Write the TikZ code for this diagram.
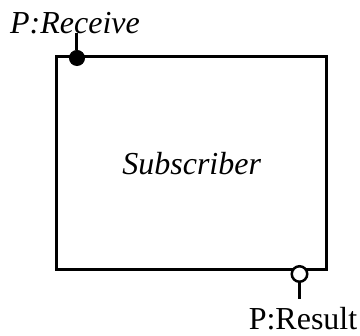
\documentclass[tikz,border=0pt]{standalone}
\usepackage{fontspec}
\setmainfont{Liberation Serif}
\usetikzlibrary{positioning}
\tikzset{
diagram/.style={
    x=1pt,
    y=1pt,
    font=\fontsize{32}{38}\selectfont
},
capsule/.style={
    rectangle,
    draw,
    line width=3pt,
    inner sep=0pt
},
inport/.style={
    circle,
    draw,
    fill=black,
    line width=1pt,
    minimum size=15pt,
    inner sep=0pt
},
outport/.style={
    circle,
    draw,
    fill=white,
    line width=2.5pt,
    minimum size=15.5pt,
    inner sep=0pt
},
stem/.style={
    line width=3pt
},
portname/.style={
    inner sep=0pt
}}

\begin{document}
\begin{tikzpicture}[diagram]
\useasboundingbox (0,0) rectangle (360,336);
\node[capsule]  (sub)   at (191.75,172.75) [minimum width=269.5pt, minimum height=212.5pt]    {\textit{Subscriber}};
\node[inport]   (recv)  at ([xshift=21.5pt,yshift=-2.5pt]sub.north west)    {};
\node[outport]  (res)   at ([xshift=-28.5pt,yshift=-3pt]sub.south east)    {};
\coordinate[above=16.5pt of recv.north]    (recvtip);
\coordinate[below=16.5pt of res.south]     (restip);
\node[portname, anchor=base] (recvname)  at ([xshift=-2pt]recvtip)    {\textit{P:Receive}};
\node[portname] (resname)   [below=8pt of restip, xshift=3.5pt]    {P:Result};

\draw[stem]    (recv.north) -- (recvtip);
\draw[stem]    (res.south) -- (restip);
\end{tikzpicture}
\end{document}
